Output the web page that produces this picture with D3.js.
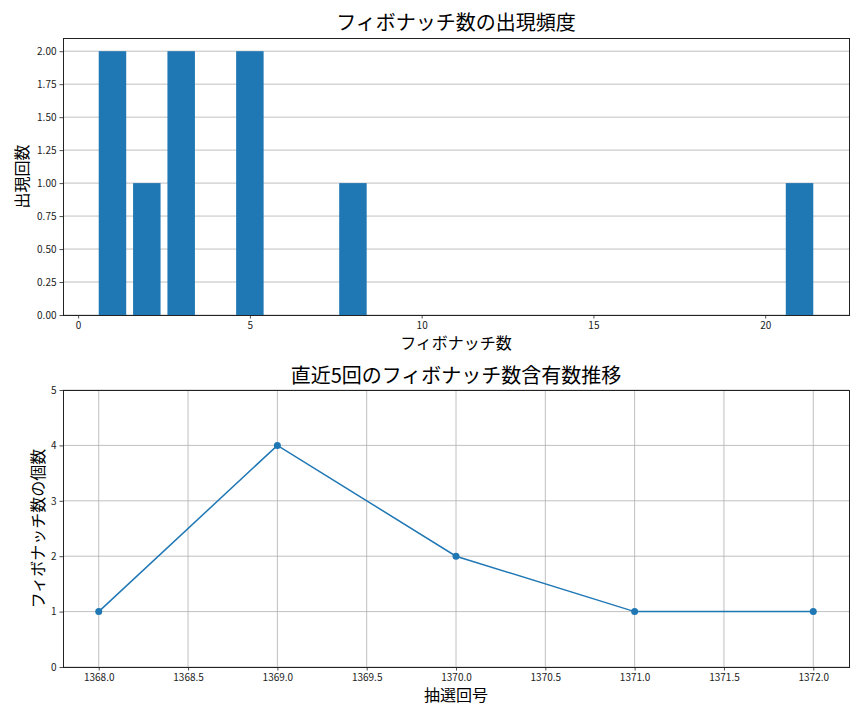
<!DOCTYPE html>
<html>
<head>
<meta charset="utf-8">
<script src="https://cdn.jsdelivr.net/npm/d3@7"></script>
<style>
  body { margin: 0; background: #fff; }
  svg { font-family: "Noto Sans CJK JP", "Noto Sans", sans-serif; }
</style>
</head>
<body>
<svg id="chart" width="864" height="720"></svg>
<script>
// Top panel: how often each Fibonacci number appeared
var fibNumbers = [1, 2, 3, 5, 8, 21];
var fibCounts = [2, 1, 2, 2, 1, 1];
var fibTicks = [0, 5, 10, 15, 20];
var countTicks = [0, 0.25, 0.5, 0.75, 1.0, 1.25, 1.5, 1.75, 2.0];

// Bottom panel: Fibonacci count in the last 5 draws
var drawNumbers = [1368, 1369, 1370, 1371, 1372];
var drawFibCounts = [1, 4, 2, 1, 1];
var drawTicks = [1368.0, 1368.5, 1369.0, 1369.5, 1370.0, 1370.5, 1371.0, 1371.5, 1372.0];
var drawCountTicks = [0, 1, 2, 3, 4, 5];

var BLUE = '#1f77b4';
var GRID = '#b0b0b0';

var svg = d3.select('#chart');

function styleAxis(g) {
    g.selectAll('path').style('stroke', '#222').style('stroke-width', 1);
    g.selectAll('.tick line').style('stroke', '#222').style('stroke-width', 0.8);
    g.selectAll('.tick text').style('font-size', '10px').attr('fill', '#222')
        .style('font-family', '"Noto Sans CJK JP", sans-serif');
}

function frame(g, w, h) {
    g.append('rect')
        .attr('x', 0).attr('y', 0)
        .attr('width', w).attr('height', h)
        .style('fill', 'none')
        .style('stroke', '#222')
        .style('stroke-width', 1)
        .attr('shape-rendering', 'crispEdges');
}

// ---------- top: bar chart ----------
var topBox = { left: 63, top: 38, width: 786, height: 277 };
var g1 = svg.append('g').attr('transform', 'translate(' + topBox.left + ',' + topBox.top + ')');

var barWidth = 0.8;
var xMin = d3.min(fibNumbers) - barWidth / 2, xMax = d3.max(fibNumbers) + barWidth / 2;
var xPad = (xMax - xMin) * 0.05;
var x1 = d3.scaleLinear().domain([xMin - xPad, xMax + xPad]).range([0, topBox.width]);
var y1 = d3.scaleLinear().domain([0, d3.max(fibCounts) * 1.05]).range([topBox.height, 0]);

// horizontal grid only
g1.append('g').selectAll('line')
    .data(countTicks)
    .enter().append('line')
    .attr('x1', 0).attr('x2', topBox.width)
    .attr('y1', function(d) { return y1(d); })
    .attr('y2', function(d) { return y1(d); })
    .style('stroke', GRID).style('stroke-width', 0.8);

g1.selectAll('rect.bar')
    .data(fibNumbers)
    .enter().append('rect')
    .attr('class', 'bar')
    .attr('x', function(d) { return x1(d - barWidth / 2); })
    .attr('width', function(d) { return x1(d + barWidth / 2) - x1(d - barWidth / 2); })
    .attr('y', function(d, i) { return y1(fibCounts[i]); })
    .attr('height', function(d, i) { return topBox.height - y1(fibCounts[i]); })
    .style('fill', BLUE);

var ax1 = g1.append('g')
    .attr('transform', 'translate(0,' + topBox.height + ')')
    .call(d3.axisBottom(x1).tickValues(fibTicks).tickFormat(d3.format('d')).tickSizeInner(3.5).tickSizeOuter(0).tickPadding(3));
styleAxis(ax1);
var ay1 = g1.append('g')
    .call(d3.axisLeft(y1).tickValues(countTicks).tickFormat(d3.format('.2f')).tickSizeInner(3.5).tickSizeOuter(0).tickPadding(3));
styleAxis(ay1);
frame(g1, topBox.width, topBox.height);

svg.append('text')
    .attr('x', topBox.left + topBox.width / 2).attr('y', 30)
    .attr('text-anchor', 'middle')
    .style('font-size', '20px')
    .text('フィボナッチ数の出現頻度');
svg.append('text')
    .attr('x', topBox.left + topBox.width / 2).attr('y', 349)
    .attr('text-anchor', 'middle')
    .style('font-size', '16px')
    .text('フィボナッチ数');
svg.append('text')
    .attr('transform', 'translate(28,' + (topBox.top + topBox.height / 2) + ') rotate(-90)')
    .attr('text-anchor', 'middle')
    .style('font-size', '16px')
    .text('出現回数');

// ---------- bottom: line chart ----------
var botBox = { left: 63, top: 390, width: 786, height: 277 };
var g2 = svg.append('g').attr('transform', 'translate(' + botBox.left + ',' + botBox.top + ')');

var dMin = d3.min(drawNumbers), dMax = d3.max(drawNumbers);
var dPad = (dMax - dMin) * 0.05;
var x2 = d3.scaleLinear().domain([dMin - dPad, dMax + dPad]).range([0, botBox.width]);
var y2 = d3.scaleLinear().domain([0, 5]).range([botBox.height, 0]);

var grid2 = g2.append('g');
grid2.selectAll('line.v')
    .data(drawTicks)
    .enter().append('line')
    .attr('class', 'v')
    .attr('x1', function(d) { return x2(d); })
    .attr('x2', function(d) { return x2(d); })
    .attr('y1', 0).attr('y2', botBox.height)
    .style('stroke', GRID).style('stroke-width', 0.8);
grid2.selectAll('line.h')
    .data(drawCountTicks)
    .enter().append('line')
    .attr('class', 'h')
    .attr('x1', 0).attr('x2', botBox.width)
    .attr('y1', function(d) { return y2(d); })
    .attr('y2', function(d) { return y2(d); })
    .style('stroke', GRID).style('stroke-width', 0.8);

var line = d3.line()
    .x(function(d) { return x2(d); })
    .y(function(d, i) { return y2(drawFibCounts[i]); });

g2.append('path')
    .datum(drawNumbers)
    .attr('d', line)
    .style('fill', 'none')
    .style('stroke', BLUE)
    .style('stroke-width', 1.5);

g2.selectAll('circle')
    .data(drawNumbers)
    .enter().append('circle')
    .attr('cx', function(d) { return x2(d); })
    .attr('cy', function(d, i) { return y2(drawFibCounts[i]); })
    .attr('r', 3.5)
    .style('fill', BLUE);

var ax2 = g2.append('g')
    .attr('transform', 'translate(0,' + botBox.height + ')')
    .call(d3.axisBottom(x2).tickValues(drawTicks).tickFormat(d3.format('.1f')).tickSizeInner(3.5).tickSizeOuter(0).tickPadding(3));
styleAxis(ax2);
var ay2 = g2.append('g')
    .call(d3.axisLeft(y2).tickValues(drawCountTicks).tickFormat(d3.format('d')).tickSizeInner(3.5).tickSizeOuter(0).tickPadding(3));
styleAxis(ay2);
frame(g2, botBox.width, botBox.height);

svg.append('text')
    .attr('x', botBox.left + botBox.width / 2).attr('y', 383)
    .attr('text-anchor', 'middle')
    .style('font-size', '20px')
    .text('直近5回のフィボナッチ数含有数推移');
svg.append('text')
    .attr('x', botBox.left + botBox.width / 2).attr('y', 701)
    .attr('text-anchor', 'middle')
    .style('font-size', '16px')
    .text('抽選回号');
svg.append('text')
    .attr('transform', 'translate(44,' + (botBox.top + botBox.height / 2) + ') rotate(-90)')
    .attr('text-anchor', 'middle')
    .style('font-size', '16px')
    .text('フィボナッチ数の個数');
</script>
</body>
</html>
